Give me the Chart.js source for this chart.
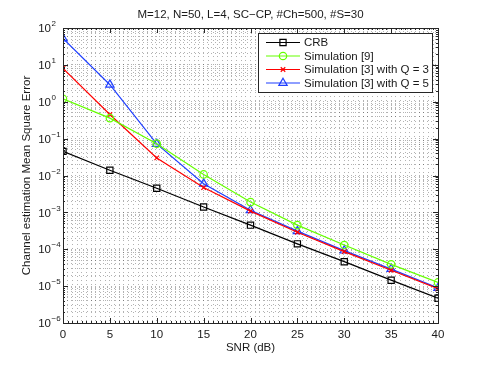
<!DOCTYPE html>
<html>
<head>
<meta charset="utf-8">
<script src="https://cdn.jsdelivr.net/npm/chart.js@4"></script>
<style>
  html, body { margin: 0; padding: 0; background: #fff; }
  canvas { display: block; }
</style>
</head>
<body>
<canvas id="c" width="485" height="365"></canvas>
<script>
// values
const SNR = [0, 5, 10, 15, 20, 25, 30, 35, 40];
const CRB = [0.045, 0.0139, 0.0045, 0.0014, 0.00045, 0.00014, 0.000046, 0.0000145, 0.0000047];
const SIM9 = [1.2, 0.36, 0.073, 0.0107, 0.0019, 0.00045, 0.00013, 0.000039, 0.0000126];
const SIM3_Q3 = [8, 0.45, 0.03, 0.0047, 0.00108, 0.00029, 0.000086, 0.000027, 0.0000085];
const SIM3_Q5 = [52, 2.9, 0.072, 0.006, 0.00114, 0.00031, 0.000092, 0.000029, 0.0000089];

const LABELS = ["CRB", "Simulation [9]", "Simulation [3] with Q = 3", "Simulation [3] with Q = 5"];
const Y_DECADES = [-6, -5, -4, -3, -2, -1, 0, 1, 2];
const X_MAJOR = [0, 5, 10, 15, 20, 25, 30, 35, 40];
const TITLE = "M=12, N=50, L=4, SC\u2212CP, #Ch=500, #S=30";
const X_TITLE = "SNR (dB)";
const Y_TITLE = "Channel estimation Mean Square Error";

const FONT = "'Liberation Sans', Arial, sans-serif";
const TXT = "#1a1a1a";
const GRID = "rgba(0,0,0,0.3)";

const STYLES = [
  { color: "#000000", pointStyle: "rect", radius: 4.4 },
  { color: "#66ff00", pointStyle: "circle", radius: 3.7 },
  { color: "#ff0000", pointStyle: "crossRot", radius: 3.2 },
  { color: "#1f3fff", pointStyle: "triangle", radius: 4.8 },
];

const SERIES = [CRB, SIM9, SIM3_Q3, SIM3_Q5];

function pts(ys) { return SNR.map((x, i) => ({ x, y: ys[i] })); }

const datasets = SERIES.map((ys, i) => ({
  label: LABELS[i],
  data: pts(ys),
  borderColor: STYLES[i].color,
  backgroundColor: "transparent",
  borderWidth: 1.2,
  pointStyle: STYLES[i].pointStyle,
  pointRadius: STYLES[i].radius,
  pointBorderColor: STYLES[i].color,
  pointBackgroundColor: "transparent",
  pointBorderWidth: 1.2,
  tension: 0,
}));

// frame, inner ticks, y labels with exponents, titles, legend
const decor = {
  id: "decor",
  afterDraw(chart) {
    const { ctx, chartArea: a, scales: { x, y } } = chart;
    ctx.save();

    // box
    ctx.strokeStyle = "#262626";
    ctx.lineWidth = 1;
    ctx.strokeRect(Math.round(a.left) + 0.5, Math.round(a.top) + 0.5,
      Math.round(a.right - a.left), Math.round(a.bottom - a.top));

    // inner ticks
    ctx.beginPath();
    for (let v = 0; v <= 40; v += 0.5) {
      const px = Math.round(x.getPixelForValue(v)) + 0.5;
      const len = v % 5 === 0 ? 5 : 2;
      ctx.moveTo(px, a.bottom); ctx.lineTo(px, a.bottom - len);
      ctx.moveTo(px, a.top); ctx.lineTo(px, a.top + len);
    }
    Y_DECADES.forEach(k => {
      for (let m = 1; m <= 9; m++) {
        if (k === 2 && m > 1) break;
        const py = Math.round(y.getPixelForValue(m * Math.pow(10, k))) + 0.5;
        const len = m === 1 ? 5 : 2;
        ctx.moveTo(a.left, py); ctx.lineTo(a.left + len, py);
        ctx.moveTo(a.right, py); ctx.lineTo(a.right - len, py);
      }
    });
    ctx.stroke();

    // y tick labels 10^k
    ctx.fillStyle = TXT;
    Y_DECADES.forEach(k => {
      const py = y.getPixelForValue(Math.pow(10, k));
      ctx.font = "11.5px " + FONT;
      ctx.textAlign = "right";
      ctx.textBaseline = "middle";
      ctx.fillText("10", 51, py + 1);
      ctx.font = "8px " + FONT;
      ctx.textAlign = "left";
      ctx.fillText(k < 0 ? "\u2212" + (-k) : String(k), 51.5, py - 4);
    });

    // titles
    ctx.font = "11.5px " + FONT;
    ctx.textAlign = "center";
    ctx.textBaseline = "middle";
    ctx.fillText(TITLE, (a.left + a.right) / 2, 15);
    ctx.fillText(X_TITLE, (a.left + a.right) / 2, 348);
    ctx.save();
    ctx.translate(27, (a.top + a.bottom) / 2);
    ctx.rotate(-Math.PI / 2);
    ctx.fillText(Y_TITLE, 0, 0);
    ctx.restore();

    // legend
    const bx = 258.5, by = 33.5, bw = 174, bh = 59;
    ctx.fillStyle = "#fff";
    ctx.fillRect(bx, by, bw, bh);
    ctx.strokeStyle = "#262626";
    ctx.lineWidth = 1;
    ctx.strokeRect(bx, by, bw, bh);
    const rows = [42.5, 56, 69.5, 83];
    LABELS.forEach((lab, i) => {
      const ry = rows[i], s = STYLES[i];
      ctx.strokeStyle = s.color;
      ctx.lineWidth = 1.2;
      ctx.beginPath();
      ctx.moveTo(266, ry); ctx.lineTo(300, ry);
      ctx.stroke();
      ctx.fillStyle = "rgba(0,0,0,0)";
      Chart.helpers.drawPoint(ctx, { pointStyle: s.pointStyle, radius: s.radius, rotation: 0, borderWidth: 1.2 }, 283, ry);
      ctx.fillStyle = TXT;
      ctx.font = "11.5px " + FONT;
      ctx.textAlign = "left";
      ctx.textBaseline = "middle";
      ctx.fillText(lab, 304, ry + 0.5);
    });

    ctx.restore();
  }
};

new Chart(document.getElementById("c"), {
  type: "line",
  data: { datasets },
  options: {
    responsive: false,
    animation: false,
    layout: { padding: { top: 28, right: 47, left: 0, bottom: 0 } },
    plugins: { legend: { display: false }, title: { display: false }, tooltip: { enabled: false } },
    scales: {
      x: {
        type: "linear", min: 0, max: 40,
        afterFit: s => { s.height = 42; },
        afterBuildTicks: s => {
          const t = [];
          for (let v = 0; v <= 40; v += 0.5) t.push({ value: v });
          s.ticks = t;
        },
        ticks: {
          autoSkip: false, maxRotation: 0, padding: 5, color: TXT,
          font: { family: FONT, size: 11.5 },
          callback: v => (X_MAJOR.includes(v) ? String(v) : ""),
        },
        grid: { color: GRID, lineWidth: 1, drawTicks: false },
        border: { display: false, dash: [1, 3] },
      },
      y: {
        type: "logarithmic", min: 1e-6, max: 1e2,
        afterFit: s => { s.width = 63; },
        afterBuildTicks: s => {
          const t = [];
          Y_DECADES.forEach(k => {
            for (let m = 1; m <= 9; m++) {
              if (k === 2 && m > 1) break;
              t.push({ value: m * Math.pow(10, k), major: m === 1 });
            }
          });
          s.ticks = t;
        },
        ticks: { display: false, autoSkip: false },
        grid: { color: GRID, lineWidth: 1, drawTicks: false },
        border: { display: false, dash: [1, 3] },
      },
    },
  },
  plugins: [decor],
});
</script>
</body>
</html>
